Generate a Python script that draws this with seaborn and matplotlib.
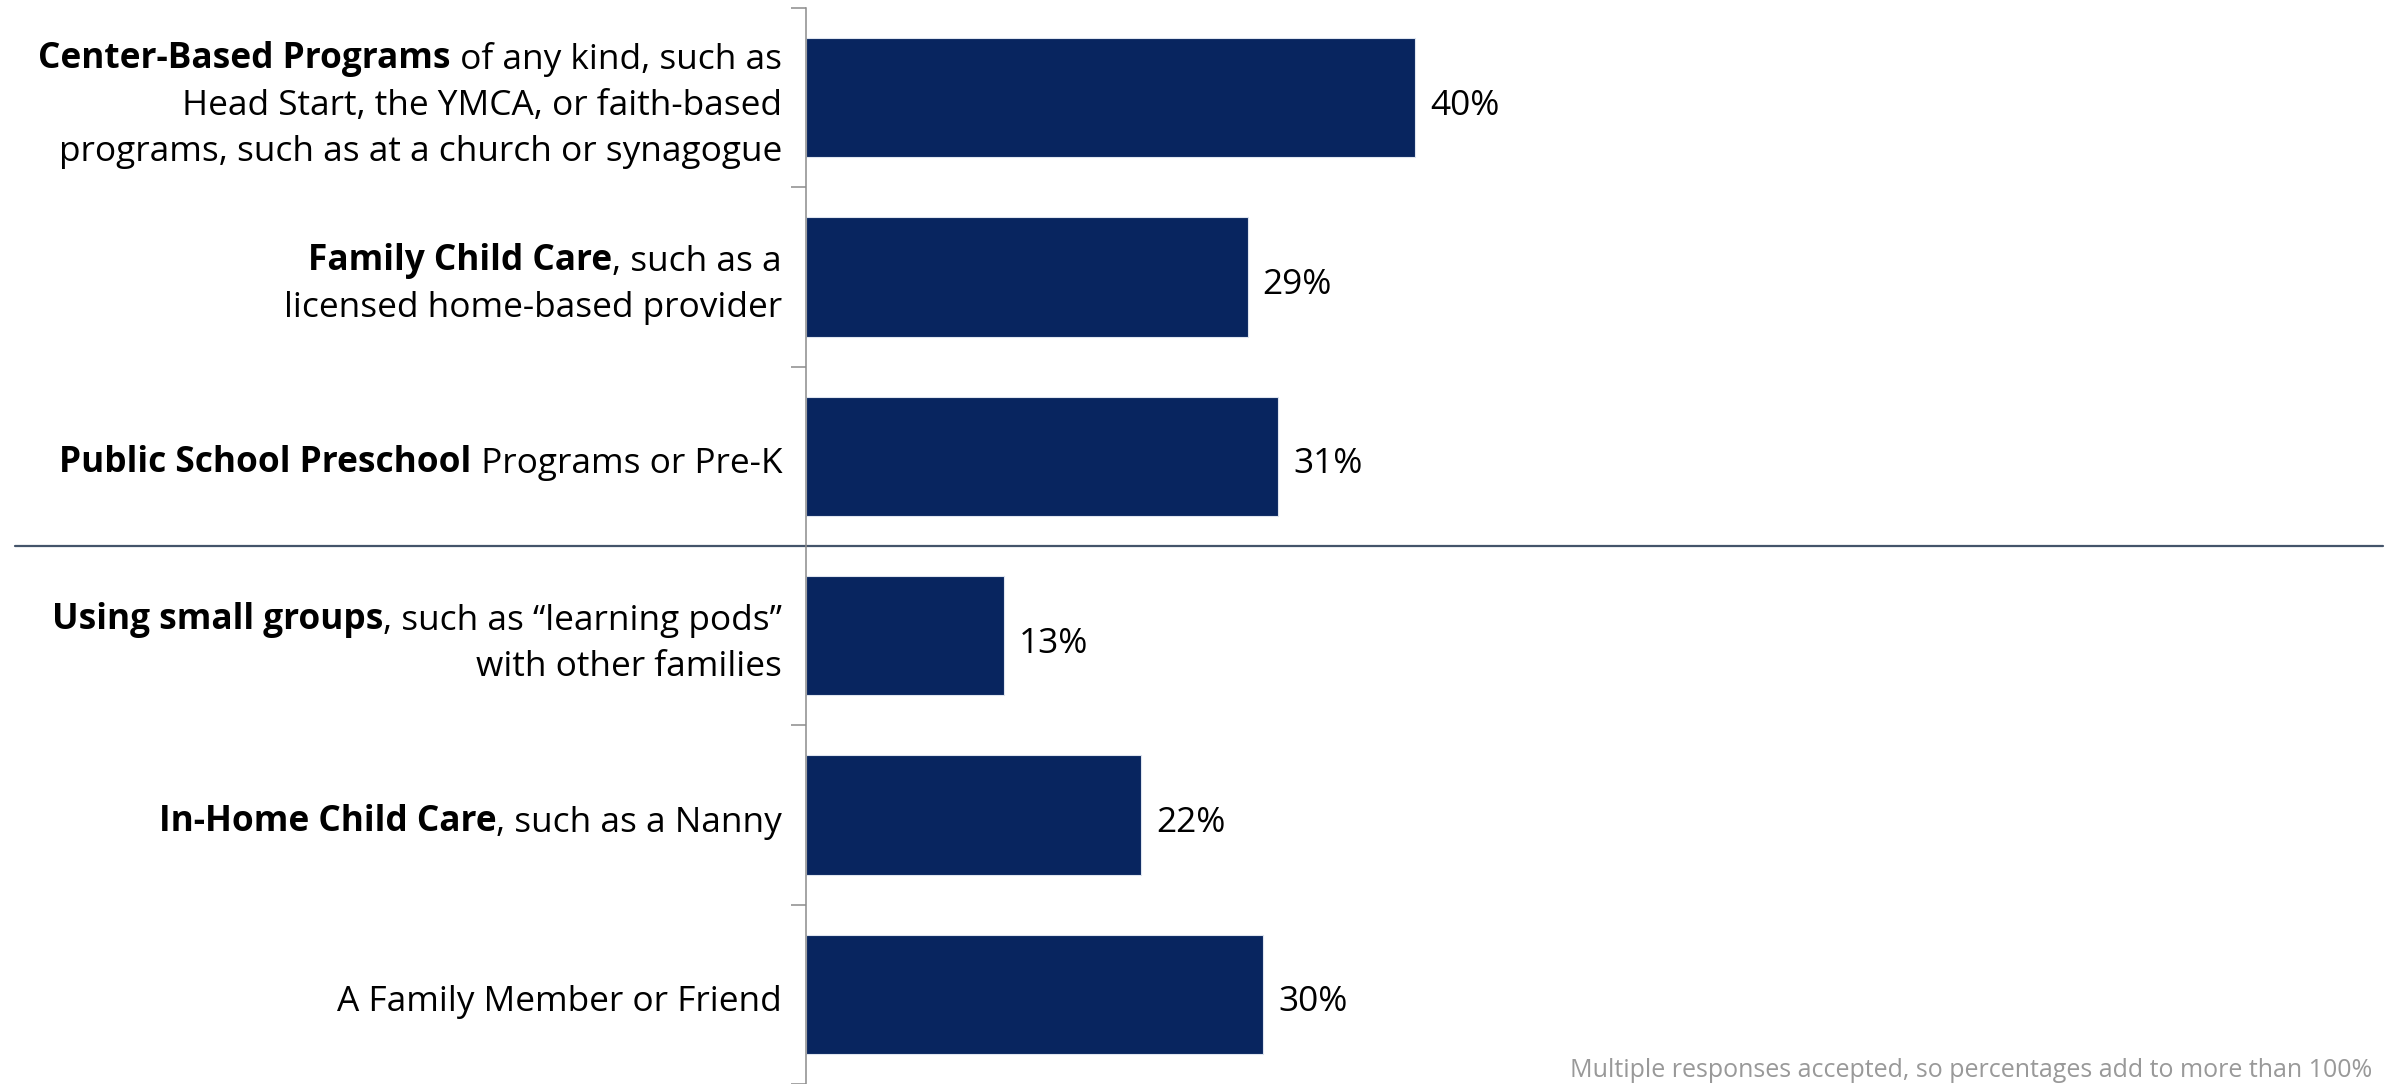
import matplotlib
matplotlib.use("Agg")
import matplotlib.pyplot as plt
import matplotlib.transforms as mtransforms
import seaborn as sns
import pandas as pd

# data
categories = ["Center-Based", "Family Child Care", "Public School Preschool",
              "Small groups", "In-Home Child Care", "Family Member or Friend"]
values = [40, 29, 31, 13, 22, 30]

# label lines: (bold part, normal part)
label_lines = [
    [("Center-Based Programs", " of any kind, such as"),
     ("", "Head Start, the YMCA, or faith-based"),
     ("", "programs, such as at a church or synagogue")],
    [("Family Child Care", ", such as a"),
     ("", "licensed home-based provider")],
    [("Public School Preschool", " Programs or Pre-K")],
    [("Using small groups", ", such as \u201clearning pods\u201d"),
     ("", "with other families")],
    [("In-Home Child Care", ", such as a Nanny")],
    [("", "A Family Member or Friend")],
]
footnote = "Multiple responses accepted, so percentages add to more than 100%"

navy = "#08255F"
fs = 25.4
fam = ["Open Sans", "DejaVu Sans"]

sns.set_style("white")
plt.rcParams["font.family"] = fam

df = pd.DataFrame({"category": categories, "value": values})

W, H = 2400, 1084
fig = plt.figure(figsize=(W / 100, H / 100), dpi=100)
ax = fig.add_axes([806 / W, 0, 1523 / W, 1 - 8 / H])

sns.barplot(data=df, x="value", y="category", orient="h", color=navy,
            width=0.665, edgecolor="#dfe5ef", linewidth=0.8, ax=ax, saturation=1)

ax.set_xlim(0, 100)
ax.set_ylim(len(categories) - 0.5, -0.5)
ax.set_xlabel("")
ax.set_ylabel("")
ax.set_xticks([])
ax.set_yticks([i - 0.5 for i in range(len(categories) + 1)])
ax.set_yticklabels([])
ax.tick_params(axis="y", left=True, length=11, width=1.1, color="#8c8c8c",
               direction="out")
for s in ["top", "right", "bottom"]:
    ax.spines[s].set_visible(False)
ax.spines["left"].set_color("#8c8c8c")
ax.spines["left"].set_linewidth(1.1)

# category labels with bold lead
line_gap = 46
for i, lines in enumerate(label_lines):
    n = len(lines)
    for j, (bold, normal) in enumerate(lines):
        off = -(j - (n - 1) / 2) * line_gap - 4
        t = ax.annotate(normal, xy=(0, i), xycoords=("axes fraction", "data"),
                        xytext=(-24, off), textcoords="offset pixels",
                        ha="right", va="center_baseline", fontsize=fs,
                        color="black")
        if bold:
            ax.annotate(bold, xy=(0, 0), xycoords=t, ha="right", va="bottom",
                        fontsize=fs, fontweight="bold", color="black")

# value labels
for i, v in enumerate(values):
    ax.annotate(f"{v}%", xy=(v, i), xytext=(15, -4), textcoords="offset pixels",
                ha="left", va="center_baseline", fontsize=fs, color="black")

# separator line
trans = mtransforms.blended_transform_factory(fig.transFigure, ax.transData)
ax.plot([15 / W, 2383 / W], [2.5, 2.5], transform=trans, color="#44546A",
        linewidth=1.6, clip_on=False)

fig.text(2372 / W, 1 / H, footnote, ha="right", va="bottom",
         fontsize=18, color="#999999")

fig.savefig("out.png", dpi=100)
